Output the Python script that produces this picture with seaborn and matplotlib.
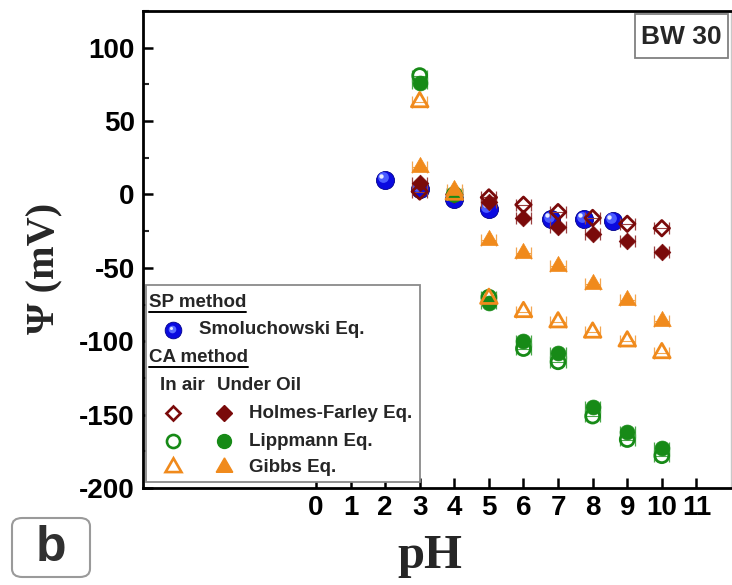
import matplotlib
matplotlib.use("Agg")
import matplotlib.pyplot as plt
import seaborn as sns
from matplotlib.patches import Rectangle, FancyBboxPatch
from matplotlib.lines import Line2D
from matplotlib.transforms import ScaledTranslation
from matplotlib.ticker import MultipleLocator

# ---- data -------------------------------------------------------------
ph_sp = [2.0, 3.0, 4.0, 5.0, 6.8, 7.75, 8.6]
psi_smoluchowski = [10, 4, -3, -10, -17, -17, -18]

ph_ca = [3, 4, 5, 6, 7, 8, 9, 10]
holmes_air = [2, 0, -2, -7, -12, -16, -20, -23]
holmes_oil = [8, 0, -5, -16, -22, -27, -32, -39]
lippmann_air = [81, 0, -70, -105, -114, -151, -167, -178]
lippmann_oil = [76, 0, -74, -100, -108, -145, -162, -173]
gibbs_air = [63, 0, -71, -80, -87, -94, -100, -108]
gibbs_oil = [19, 3, -31, -40, -49, -61, -72, -86]
ph_err = 0.22

ph_ticks = list(range(0, 12))
psi_ticks = [-200, -150, -100, -50, 0, 50, 100]

MAROON = "#7a0a0a"
GREEN = "#178a17"
ORANGE = "#f08a1c"
BLUE = "#0a0ae0"

sns.set_theme(style="ticks")
plt.rcParams["font.family"] = ["Liberation Sans", "DejaVu Sans"]
plt.rcParams["font.weight"] = "bold"
plt.rcParams["axes.unicode_minus"] = False

W, H = 732, 585
fig = plt.figure(figsize=(W / 100, H / 100), dpi=100)


def fx(x):
    return x / W


def fy(y):
    return 1 - y / H


ax = fig.add_axes([fx(143), fy(488), fx(731) - fx(143), fy(11) - fy(488)])
ax.set_xlim(-5, 12)
ax.set_ylim(-200, 125)

TRI = (3, 0, 0)
series = [
    # values, marker, color, filled, size, errorbar colour
    (holmes_air, "D", MAROON, False, 62, "#9a4040"),
    (holmes_oil, "D", MAROON, True, 72, "#9a4040"),
    (lippmann_air, "o", GREEN, False, 100, "#4aa84a"),
    (lippmann_oil, "o", GREEN, True, 115, "#4aa84a"),
    (gibbs_air, TRI, ORANGE, False, 190, "#f3a650"),
    (gibbs_oil, TRI, ORANGE, True, 210, "#f3a650"),
]

# Smoluchowski spheres (drawn first, underneath)
sns.scatterplot(x=ph_sp, y=psi_smoluchowski, ax=ax, s=170, color=BLUE,
                edgecolor="#00008a", linewidth=0.6, zorder=3, legend=False)
hl1 = ax.transData + ScaledTranslation(-1.8 / 72, 1.8 / 72, fig.dpi_scale_trans)
hl2 = ax.transData + ScaledTranslation(-3.0 / 72, 3.0 / 72, fig.dpi_scale_trans)
ax.scatter(ph_sp, psi_smoluchowski, s=60, color="#4a5cff", linewidth=0,
           transform=hl1, zorder=3.1)
ax.scatter(ph_sp, psi_smoluchowski, s=10, color="#e8ecff", linewidth=0,
           transform=hl2, zorder=3.2)

for i, (vals, mk, col, filled, size, ecol) in enumerate(series):
    ax.errorbar(ph_ca, vals, xerr=ph_err, fmt="none", ecolor=ecol,
                elinewidth=0.8, capsize=4.5, capthick=0.9, zorder=3.5 + i * 0.1)
    if filled:
        sns.scatterplot(x=ph_ca, y=vals, ax=ax, marker=mk, s=size, color=col,
                        edgecolor=col, linewidth=0.5, zorder=4 + i * 0.1,
                        legend=False)
    else:
        sns.scatterplot(x=ph_ca, y=vals, ax=ax, marker=mk, s=size, color=col,
                        facecolor="none", edgecolor=col, linewidth=2.0,
                        zorder=4 + i * 0.1, legend=False)

# ---- axes styling -----------------------------------------------------
for sp in ax.spines.values():
    sp.set_visible(True)
    sp.set_linewidth(2.0)
    sp.set_color("black")
ax.spines["right"].set_color("#c8c8c8")
ax.spines["right"].set_linewidth(1.0)
ax.set_xticks(ph_ticks)
ax.set_yticks(psi_ticks)
ax.yaxis.set_minor_locator(MultipleLocator(25))
ax.tick_params(axis="both", which="major", direction="in", length=7, width=1.8,
               labelsize=20, colors="black")
ax.tick_params(axis="y", which="minor", direction="in", length=4, width=1.5)
ax.tick_params(axis="y", pad=6)
ax.tick_params(axis="x", pad=5)
ax.set_xlabel("")
ax.set_ylabel("")
for lab in ax.get_xticklabels() + ax.get_yticklabels():
    lab.set_fontweight("bold")

serif = ["Liberation Serif", "DejaVu Serif"]
fig.text(fx(45), fy(268), "\u03a8 (mV)", rotation=90, ha="center", va="center",
         family=serif, fontweight="bold", fontsize=29)
fig.text(fx(430), fy(556), "pH", ha="center", va="center",
         family=serif, fontweight="bold", fontsize=35)

# ---- sample tag -------------------------------------------------------
fig.add_artist(Rectangle((fx(635), fy(58)), fx(728) - fx(635), fy(14) - fy(58),
                         transform=fig.transFigure, facecolor="white",
                         edgecolor="#808080", linewidth=1.3, zorder=10))
fig.text(fx(681.5), fy(36.5), "BW 30", ha="center", va="center",
         fontsize=19, fontweight="bold", zorder=11)

# ---- panel letter -----------------------------------------------------
fig.add_artist(FancyBboxPatch((fx(12), fy(577)), fx(90) - fx(12), fy(518) - fy(577),
                              boxstyle="round,pad=0,rounding_size=0.014",
                              transform=fig.transFigure, facecolor="white",
                              edgecolor="#9a9a9a", linewidth=1.5, zorder=10))
fig.text(fx(51), fy(548), "b", ha="center", va="center", fontsize=36,
         fontweight="bold", color="#303030", zorder=11)

# ---- legend -----------------------------------------------------------
fig.add_artist(Rectangle((fx(146), fy(482)), fx(420) - fx(146), fy(285) - fy(482),
                         transform=fig.transFigure, facecolor="white",
                         edgecolor="#8a8a8a", linewidth=1.3, zorder=10))
LFS = 13.5
headers = []
headers.append(fig.text(fx(149), fy(302), "SP method", ha="left", va="center",
                        fontsize=LFS, fontweight="bold", zorder=11))
fig.text(fx(199), fy(330), "Smoluchowski Eq.", ha="left", va="center",
         fontsize=LFS, fontweight="bold", zorder=11)
headers.append(fig.text(fx(149), fy(357), "CA method", ha="left", va="center",
                        fontsize=LFS, fontweight="bold", zorder=11))
fig.text(fx(160), fy(386), "In air", ha="left", va="center",
         fontsize=LFS, fontweight="bold", zorder=11)
fig.text(fx(217), fy(386), "Under Oil", ha="left", va="center",
         fontsize=LFS, fontweight="bold", zorder=11)

rows = [("Holmes-Farley Eq.", "D", MAROON, 413, 7.4, 8.0),
        ("Lippmann Eq.", "o", GREEN, 441, 9.4, 10.0),
        ("Gibbs Eq.", TRI, ORANGE, 467, 13.2, 13.8)]
for label, mk, col, yy, ms_open, ms_fill in rows:
    fig.add_artist(Line2D([fx(173)], [fy(yy)], marker=mk, markersize=ms_open,
                          markerfacecolor="none", markeredgecolor=col,
                          markeredgewidth=1.9, linestyle="none",
                          transform=fig.transFigure, zorder=11))
    fig.add_artist(Line2D([fx(224)], [fy(yy)], marker=mk, markersize=ms_fill,
                          markerfacecolor=col, markeredgecolor=col,
                          linestyle="none", transform=fig.transFigure, zorder=11))
    fig.text(fx(249), fy(yy), label, ha="left", va="center",
             fontsize=LFS, fontweight="bold", zorder=11)

fig.add_artist(Line2D([fx(173)], [fy(330)], marker="o", markersize=12,
                      markerfacecolor=BLUE, markeredgecolor="#00008a",
                      markeredgewidth=0.6, linestyle="none",
                      transform=fig.transFigure, zorder=11))
fig.add_artist(Line2D([fx(171.5)], [fy(328.5)], marker="o", markersize=5.5,
                      markerfacecolor="#5a6cff", markeredgewidth=0,
                      linestyle="none", transform=fig.transFigure, zorder=11.1))
fig.add_artist(Line2D([fx(170.5)], [fy(327.5)], marker="o", markersize=2.2,
                      markerfacecolor="#e8ecff", markeredgewidth=0,
                      linestyle="none", transform=fig.transFigure, zorder=11.2))

# underline the two method headers
fig.canvas.draw()
renderer = fig.canvas.get_renderer()
for t in headers:
    bb = t.get_window_extent(renderer)
    yline = bb.y0 - 1.5
    fig.add_artist(Line2D([bb.x0 / W, bb.x1 / W], [yline / H, yline / H],
                          color="black", linewidth=1.4,
                          transform=fig.transFigure, zorder=11))

fig.savefig("out.png", dpi=100)
